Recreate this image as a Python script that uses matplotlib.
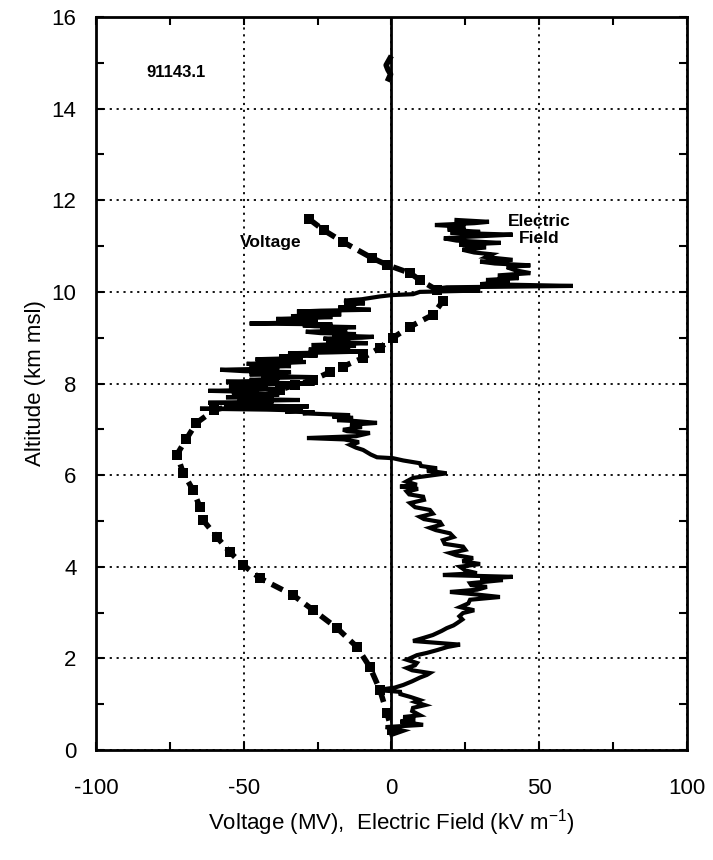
import matplotlib
matplotlib.use("Agg")
import matplotlib.pyplot as plt
from matplotlib.ticker import MultipleLocator

plt.rcParams['font.family'] = ['Liberation Sans', 'DejaVu Sans']
plt.rcParams['axes.unicode_minus'] = False
plt.rcParams['mathtext.fontset'] = 'custom'
plt.rcParams['mathtext.rm'] = 'Liberation Sans'

# Balloon sounding 91143.1: voltage profile (MV) versus altitude (km msl)
voltage_mv = [-27.9, -23.0, -16.4, -6.6, -1.5, 6.3, 9.6, 15.4, 17.4, 14.0, 6.3,
              0.5, -3.9, -9.6, -16.4, -20.8, -26.6, -32.7, -37.7, -45.0, -55.0,
              -60.0, -66.0, -69.5, -72.6, -70.5, -67.2, -64.8, -63.8, -59.1,
              -54.7, -50.2, -44.5, -33.3, -26.6, -18.4, -11.7, -7.3, -3.9,
              -1.5, 0.1]
voltage_alt = [11.59, 11.35, 11.09, 10.74, 10.59, 10.41, 10.26, 10.04, 9.80,
               9.50, 9.24, 9.00, 8.78, 8.56, 8.37, 8.25, 8.08, 7.97, 7.86,
               7.70, 7.50, 7.42, 7.14, 6.78, 6.45, 6.05, 5.68, 5.30, 5.02,
               4.65, 4.32, 4.04, 3.75, 3.38, 3.06, 2.66, 2.25, 1.81, 1.31,
               0.80, 0.43]

# Electric field (kV/m) versus altitude (km msl)
efield_alt = [0.33, 0.42, 0.50, 0.55, 0.62, 0.66, 0.72, 0.76, 0.85, 0.92,
              0.98, 1.05, 1.09, 1.16, 1.22, 1.27, 1.31, 1.36, 1.42, 1.50,
              1.58, 1.64, 1.68, 1.74, 1.79, 1.85, 1.90, 1.97, 2.07, 2.12,
              2.18, 2.25, 2.30, 2.34, 2.38, 2.45, 2.51, 2.60, 2.66, 2.72,
              2.77, 2.85, 2.92, 2.99, 3.05, 3.12, 3.20, 3.28, 3.34, 3.40,
              3.45, 3.50, 3.56, 3.60, 3.64, 3.71, 3.74, 3.78, 3.82, 3.86,
              3.92, 4.00, 4.06, 4.12, 4.19, 4.25, 4.30, 4.37, 4.44, 4.50,
              4.58, 4.65, 4.73, 4.80, 4.85, 4.92, 4.98, 5.04, 5.09, 5.16,
              5.24, 5.30, 5.39, 5.46, 5.53, 5.58, 5.64, 5.70, 5.75, 5.79,
              5.86, 5.94, 6.00, 6.04, 6.10, 6.15, 6.20, 6.26, 6.32, 6.37,
              6.39, 6.45, 6.55, 6.60, 6.66, 6.72, 6.78, 6.81, 6.85, 6.92,
              6.96, 6.99, 7.05, 7.10, 7.14, 7.18, 7.20, 7.25, 7.28,
              7.31, 7.33, 7.35, 7.37, 7.39, 7.41, 7.43, 7.45, 7.46, 7.48,
              7.50, 7.52, 7.54, 7.56, 7.58, 7.60, 7.62, 7.64, 7.66, 7.68,
              7.70, 7.72, 7.74, 7.76, 7.78, 7.80, 7.82, 7.84, 7.86, 7.88,
              7.90, 7.92, 7.94, 7.96, 7.98, 8.00, 8.02, 8.04, 8.06, 8.08,
              8.10, 8.12, 8.14, 8.16, 8.18, 8.20, 8.22, 8.25, 8.27, 8.30,
              8.32, 8.34, 8.36, 8.38, 8.40, 8.43, 8.45, 8.47, 8.49, 8.51,
              8.53, 8.55, 8.57, 8.59, 8.61, 8.63, 8.66, 8.68, 8.70, 8.72,
              8.74, 8.76, 8.78, 8.80, 8.82, 8.84, 8.86, 8.88, 8.90, 8.92,
              8.94, 8.96, 8.98, 9.00, 9.02, 9.04, 9.06, 9.08, 9.10, 9.13,
              9.15, 9.17, 9.19, 9.21, 9.23, 9.25, 9.27, 9.29, 9.31, 9.33,
              9.35, 9.37, 9.39, 9.41, 9.43, 9.45, 9.47, 9.49, 9.51, 9.53,
              9.55, 9.57, 9.59, 9.61, 9.63, 9.66, 9.69, 9.72, 9.75, 9.78,
              9.81, 9.84, 9.87, 9.90, 9.93, 9.95, 10.00,
              10.03, 10.06, 10.10, 10.13, 10.17, 10.22, 10.26, 10.30, 10.36, 10.41,
              10.47, 10.54, 10.58, 10.62, 10.66, 10.70, 10.76, 10.82, 10.86, 10.92,
              10.97, 11.03, 11.07, 11.12, 11.17, 11.20, 11.25, 11.29, 11.31, 11.36,
              11.42, 11.46, 11.50, 11.53, 11.57]
efield_kvm = [0.0, 4.0, -2.0, 10.7, 3.0, 8.0, 4.0, 9.6, 7.0, 7.3,
              11.3, 8.0, 9.6, 6.3, 3.0, 2.9, -4.9, 1.0, 4.0, 7.0,
              9.6, 12.0, 13.0, 7.0, 5.2, 8.0, 8.6, 5.2, 8.6, 12.0,
              15.4, 19.0, 23.2, 15.4, 7.3, 11.0, 14.0, 17.0, 18.7, 21.0,
              22.2, 24.0, 23.0, 24.2, 28.0, 23.2, 26.0, 26.6, 36.7, 28.0,
              19.8, 29.0, 32.3, 27.0, 26.6, 37.7, 30.0, 41.0, 17.4, 28.9,
              25.0, 23.2, 30.0, 24.0, 27.6, 22.0, 19.8, 25.0, 24.2, 18.0,
              17.4, 21.0, 19.8, 15.0, 13.0, 17.0, 16.4, 11.0, 9.6, 14.0,
              13.0, 8.0, 6.3, 11.0, 10.7, 6.0, 5.2, 9.0, 2.9, 8.6,
              5.0, 7.3, 14.0, 18.7, 12.0, 15.4, 10.0, 9.6, 4.0, 0.5,
              -4.9, -7.0, -9.6, -12.0, -14.0, -11.0, -16.0, -28.6, -12.0, -7.3,
              -15.0, -16.4, -10.0, -14.0, -4.9, -12.0, -18.4, -13.0, -20.0,
              -14.0, -22.0, -30.0, -26.0, -36.0, -30.0, -42.0, -64.8, -40.0, -52.0,
              -28.0, -48.0, -56.0, -40.0, -62.0, -44.0, -52.0, -31.0, -48.0, -40.0,
              -56.0, -44.0, -50.0, -38.0, -54.0, -45.0, -48.0, -62.0, -46.0, -38.0,
              -52.0, -44.0, -55.0, -42.0, -48.0, -26.0, -46.0, -56.0, -42.0, -48.0,
              -38.0, -44.0, -26.0, -42.0, -36.0, -48.0, -40.0, -34.0, -50.0, -58.0,
              -44.0, -38.0, -48.0, -34.0, -42.0, -49.0, -36.0, -29.0, -44.0, -40.0,
              -46.0, -34.0, -30.0, -38.0, -25.0, -30.0, -35.0, -20.0, -8.0, -22.0,
              -28.0, -14.0, -20.0, -26.0, -12.0, -27.0, -18.0, -8.0, -16.0, -22.0,
              -14.0, -20.0, -23.0, -10.0, -6.0, -16.0, -20.0, -12.0, -24.0, -29.0,
              -18.0, -15.0, -24.0, -20.0, -12.0, -26.0, -30.0, -20.0, -48.0, -34.0,
              -25.0, -36.0, -30.0, -39.0, -28.0, -20.0, -34.0, -26.0, -17.0, -30.0,
              -22.0, -32.0, -24.0, -7.0, -14.0, -18.0, -12.0, -16.0, -9.0, -14.0,
              -16.0, -10.0, -7.0, -4.0, 0.0, 7.3, 9.6,
              30.0, 14.0, 18.7, 61.4, 30.0, 40.0, 32.0, 43.0, 36.0, 47.0,
              42.0, 39.0, 47.0, 35.0, 30.0, 41.0, 32.0, 34.0, 28.0, 24.0,
              32.0, 23.0, 37.0, 22.0, 17.7, 25.0, 41.0, 20.0, 30.0, 19.0,
              25.0, 14.7, 28.0, 33.0, 22.0]

# Short cluster of samples near the top of the flight
top_kvm = [-0.5, -1.8, -1.2, -0.3, -1.0]
top_alt = [15.10, 14.95, 14.85, 14.75, 14.65]

fig = plt.figure(figsize=(7.13, 8.6), dpi=100)
ax = fig.add_axes([0.1346, 0.1279, 0.8289, 0.8523])

ax.set_xlim(-100, 100)
ax.set_ylim(0, 16)

ax.xaxis.set_major_locator(MultipleLocator(50))
ax.xaxis.set_minor_locator(MultipleLocator(25))
ax.yaxis.set_major_locator(MultipleLocator(2))
ax.yaxis.set_minor_locator(MultipleLocator(1))

ax.grid(True, which='major', linestyle=(0, (1.2, 2.6)), color='black',
        linewidth=1.3)
ax.set_axisbelow(True)

ax.tick_params(which='both', direction='in', top=True, right=True,
               length=6, width=1.5, labelsize=16)
ax.tick_params(axis='x', pad=20)
ax.tick_params(axis='y', pad=14)
for s in ax.spines.values():
    s.set_linewidth(2)

# zero reference line
ax.axvline(0, color='black', linewidth=2)

ax.plot(efield_kvm, efield_alt, color='black', linewidth=3,
        solid_joinstyle='miter')
ax.plot(top_kvm, top_alt, color='black', linewidth=4)

ax.plot(voltage_mv, voltage_alt, color='black', linewidth=4,
        linestyle=(0, (2.2, 1.3)), marker='s', markersize=6.5,
        markeredgewidth=0)

ax.text(-73, 14.8, '91143.1', fontsize=12, fontweight='bold',
        ha='center', va='center')
ax.text(-41, 11.07, 'Voltage', fontsize=12.5, fontweight='bold',
        ha='center', va='center')
ax.text(50, 11.35, 'Electric\nField', fontsize=12.5, fontweight='bold',
        ha='center', va='center', linespacing=1.2)

ax.set_xlabel('Voltage (MV),  Electric Field (kV m$^{\\mathregular{-1}}$)',
              fontsize=16, labelpad=6)
ax.set_ylabel('Altitude (km msl)', fontsize=16, labelpad=4)

fig.savefig('out.png', dpi=100)
